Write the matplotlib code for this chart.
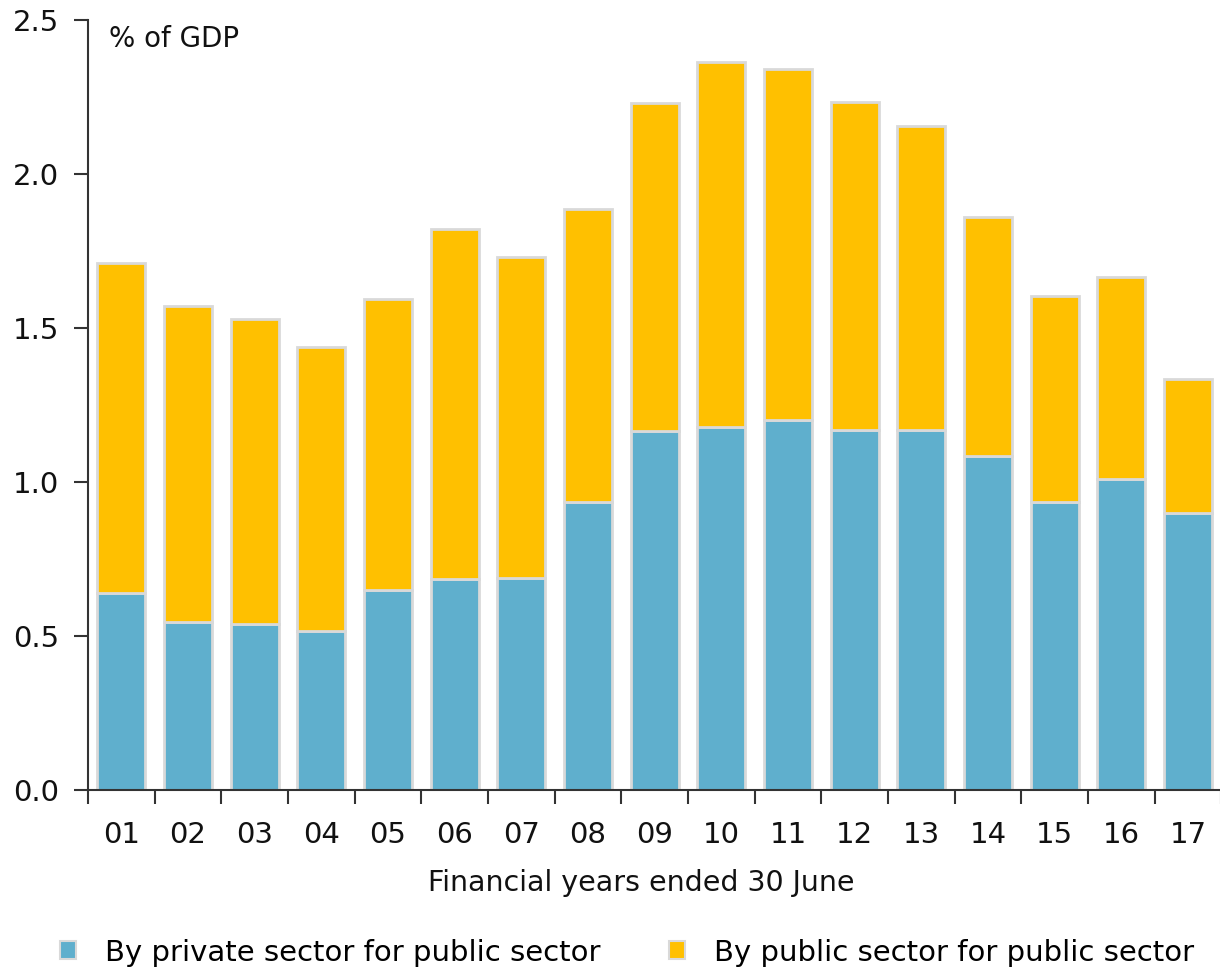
import matplotlib
matplotlib.use('Agg')
import matplotlib.pyplot as plt
from matplotlib.patches import Patch
import numpy as np

years = ['01', '02', '03', '04', '05', '06', '07', '08', '09',
         '10', '11', '12', '13', '14', '15', '16', '17']
# % of GDP
private_for_public = [0.64, 0.545, 0.54, 0.515, 0.65, 0.685, 0.69, 0.935, 1.165,
                      1.18, 1.20, 1.17, 1.17, 1.085, 0.935, 1.01, 0.90]
total = [1.71, 1.57, 1.53, 1.44, 1.595, 1.82, 1.73, 1.885, 2.23,
         2.365, 2.34, 2.235, 2.155, 1.86, 1.605, 1.665, 1.335]
public_for_public = [t - p for t, p in zip(total, private_for_public)]

blue = '#5fafcd'
gold = '#ffc000'
edge = '#d9d9d9'

plt.rcParams['font.family'] = 'DejaVu Sans'

fig = plt.figure(figsize=(12.2, 9.73), dpi=100)
ax = fig.add_axes([0.0721, 0.188, 0.929, 0.7914])

x = np.arange(len(years))
ax.bar(x, private_for_public, width=0.72, color=blue, edgecolor=edge, linewidth=2)
ax.bar(x, public_for_public, width=0.72, bottom=private_for_public,
       color=gold, edgecolor=edge, linewidth=2)

ax.set_xlim(-0.5, len(years) - 0.5)
ax.set_ylim(0, 2.5)
ax.set_yticks([0.0, 0.5, 1.0, 1.5, 2.0, 2.5])
ax.set_yticklabels(['0.0', '0.5', '1.0', '1.5', '2.0', '2.5'])

ax.set_xticks(x)
ax.set_xticklabels(years)
ax.set_xticks(np.arange(len(years) + 1) - 0.5, minor=True)
ax.tick_params(axis='x', which='major', length=0, pad=22, labelsize=21, colors='#111111')
ax.tick_params(axis='x', which='minor', length=10, width=1.5, color='#333333')
ax.tick_params(axis='y', length=10, width=1.5, pad=11, labelsize=21, color='#333333',
               labelcolor='#111111')

for side in ['top', 'right']:
    ax.spines[side].set_visible(False)
for side in ['left', 'bottom']:
    ax.spines[side].set_linewidth(1.5)
    ax.spines[side].set_color('#333333')

ax.text(0.019, 0.993, '% of GDP', transform=ax.transAxes, ha='left', va='top',
        fontsize=20, color='#111111')
ax.text(0.4885, -0.103, 'Financial years ended 30 June', transform=ax.transAxes,
        ha='center', va='top', fontsize=20.5, color='#111111')

handles = [Patch(facecolor=blue, edgecolor=edge, linewidth=1.5),
           Patch(facecolor=gold, edgecolor=edge, linewidth=1.5)]
fig.legend(handles, ['By private sector for public sector', 'By public sector for public sector'],
           loc='center', bbox_to_anchor=(0.514, 0.021), ncol=2, frameon=False,
           fontsize=21, handlelength=0.55, handleheight=0.55, handletextpad=1.0,
           columnspacing=2.33, borderpad=0.2)

fig.savefig('out.png', dpi=100)
